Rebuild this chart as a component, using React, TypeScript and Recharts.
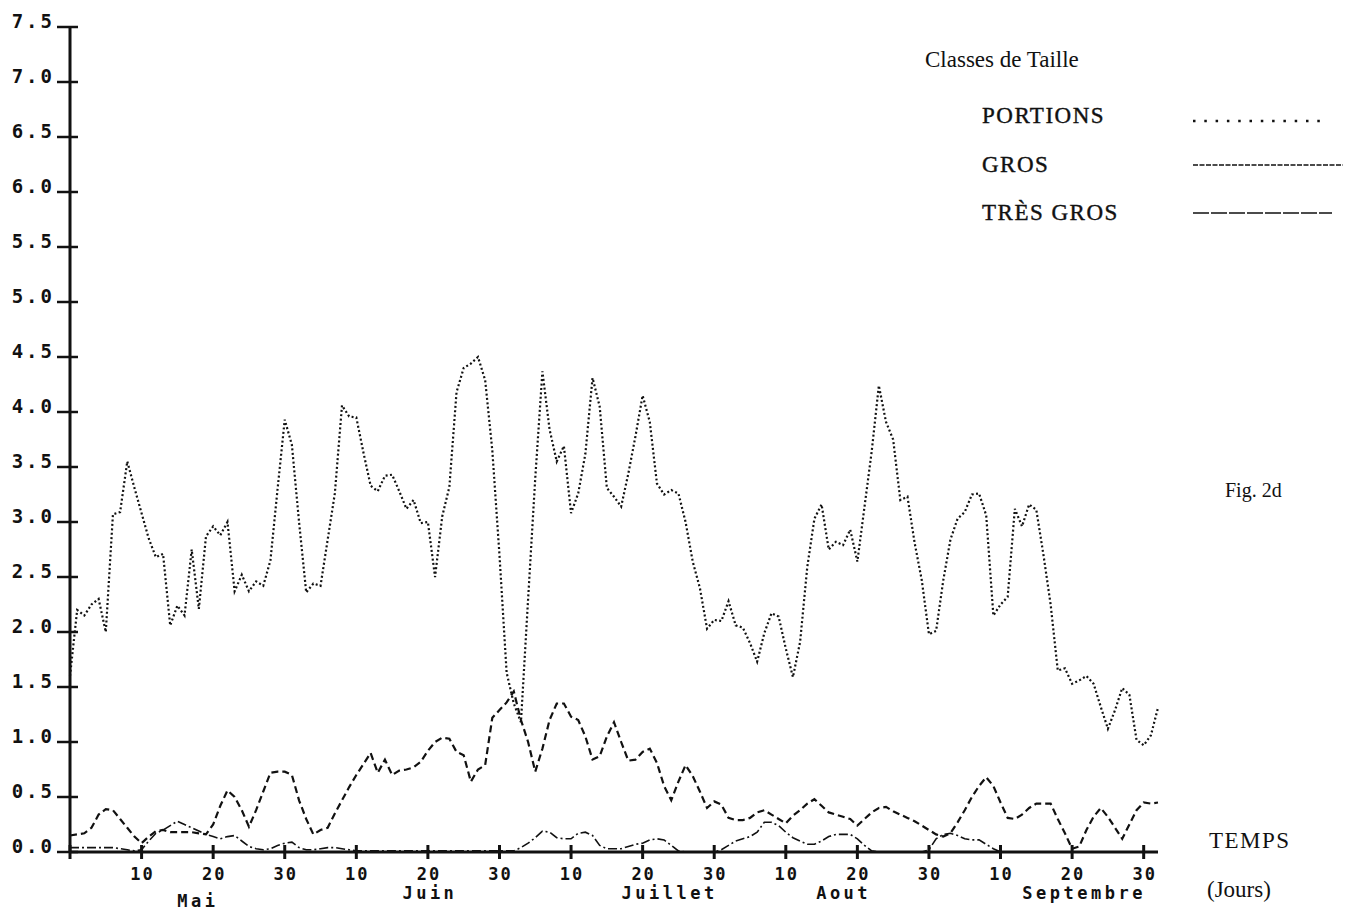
import { LineChart, Line, XAxis, YAxis } from "recharts";

// daily values, day 0 = start of May (30-day months on the time axis)
const portions = [
  1.6, 2.2, 2.15, 2.25, 2.3, 2.0, 3.07, 3.09, 3.55, 3.31,
  3.08, 2.85, 2.68, 2.71, 2.06, 2.24, 2.15, 2.75, 2.21, 2.87,
  2.96, 2.88, 3.0, 2.37, 2.52, 2.37, 2.46, 2.42, 2.65, 3.3,
  3.93, 3.7, 3.0, 2.36, 2.44, 2.42, 2.84, 3.26, 4.06, 3.96,
  3.95, 3.63, 3.33, 3.28, 3.42, 3.43, 3.28, 3.12, 3.2, 2.99,
  3.0, 2.5, 3.05, 3.32, 4.18, 4.4, 4.44, 4.5, 4.29, 3.65,
  2.7, 1.63, 1.35, 1.18, 2.3, 3.4, 4.37, 3.84, 3.55, 3.69,
  3.08, 3.26, 3.62, 4.31, 4.05, 3.31, 3.23, 3.14, 3.44, 3.78,
  4.15, 3.91, 3.35, 3.25, 3.29, 3.26, 3.0, 2.64, 2.4, 2.03,
  2.11, 2.1, 2.28, 2.06, 2.04, 1.9, 1.73, 1.99, 2.17, 2.14,
  1.85, 1.59, 1.91, 2.59, 3.03, 3.16, 2.75, 2.82, 2.79, 2.93,
  2.64, 3.14, 3.64, 4.24, 3.91, 3.75, 3.2, 3.23, 2.81, 2.47,
  1.98, 2.01, 2.47, 2.84, 3.03, 3.09, 3.25, 3.26, 3.06, 2.15,
  2.25, 2.32, 3.12, 2.96, 3.16, 3.11, 2.7, 2.25, 1.65, 1.67,
  1.53, 1.56, 1.6, 1.53, 1.32, 1.12, 1.29, 1.49, 1.43, 1.02,
  0.97, 1.06, 1.31,
];

const gros = [
  0.15, 0.16, 0.17, 0.22, 0.34, 0.39, 0.38, 0.3, 0.22, 0.14,
  0.08, 0.14, 0.19, 0.2, 0.18, 0.18, 0.18, 0.18, 0.17, 0.16,
  0.25, 0.42, 0.56, 0.5, 0.38, 0.23, 0.38, 0.55, 0.72, 0.73,
  0.73, 0.7, 0.47, 0.3, 0.16, 0.2, 0.22, 0.35, 0.47, 0.59,
  0.7, 0.8, 0.9, 0.72, 0.84, 0.7, 0.74, 0.75, 0.77, 0.82,
  0.92, 1.0, 1.04, 1.03, 0.91, 0.88, 0.64, 0.75, 0.79, 1.22,
  1.29, 1.36, 1.46, 1.2, 1.0, 0.73, 0.94, 1.2, 1.35, 1.35,
  1.23, 1.2, 1.05, 0.84, 0.87, 1.05, 1.18, 1.0, 0.83, 0.84,
  0.91, 0.94, 0.81, 0.6, 0.47, 0.64, 0.79, 0.69, 0.55, 0.4,
  0.46, 0.43, 0.31, 0.29, 0.29, 0.31, 0.36, 0.38, 0.34, 0.3,
  0.26, 0.33, 0.38, 0.44, 0.48, 0.42, 0.36, 0.34, 0.32, 0.3,
  0.24, 0.3, 0.36, 0.4, 0.41, 0.37, 0.34, 0.31, 0.28, 0.24,
  0.2, 0.16, 0.14, 0.17, 0.27, 0.38, 0.5, 0.6, 0.68, 0.6,
  0.45, 0.31, 0.3, 0.34, 0.4, 0.44, 0.44, 0.44, 0.3, 0.17,
  0.03, 0.05, 0.2, 0.32, 0.4, 0.32, 0.22, 0.12, 0.25, 0.38,
  0.45, 0.44, 0.45,
];

const tresGros = [
  0.04, 0.04, 0.04, 0.04, 0.04, 0.04, 0.04, 0.03, 0.02, 0.01,
  0.02, 0.1, 0.17, 0.2, 0.24, 0.28, 0.25, 0.22, 0.19, 0.16,
  0.14, 0.12, 0.14, 0.15, 0.1, 0.05, 0.03, 0.02, 0.03, 0.06,
  0.08, 0.09, 0.04, 0.02, 0.02, 0.03, 0.04, 0.04, 0.03, 0.02,
  0.01, 0.01, 0.01, 0.01, 0.01, 0.01, 0.01, 0.01, 0.01, 0.01,
  0.01, 0.01, 0.01, 0.01, 0.01, 0.01, 0.01, 0.01, 0.01, 0.01,
  0.01, 0.01, 0.01, 0.04, 0.08, 0.13, 0.19, 0.18, 0.13, 0.12,
  0.12, 0.17, 0.18, 0.15, 0.06, 0.03, 0.03, 0.03, 0.05, 0.07,
  0.08, 0.11, 0.12, 0.11, 0.06, 0.01, 0, 0, 0, 0,
  0, 0.02, 0.06, 0.1, 0.12, 0.14, 0.18, 0.27, 0.27, 0.24,
  0.18, 0.13, 0.1, 0.07, 0.07, 0.1, 0.14, 0.16, 0.16, 0.16,
  0.12, 0.06, 0.01, 0, 0, 0, 0, 0, 0, 0,
  0.02, 0.12, 0.16, 0.17, 0.15, 0.12, 0.11, 0.11, 0.07, 0.03,
  0, 0, 0, 0, 0, 0, 0, 0, 0, 0,
  0, 0, 0, 0, 0, 0, 0, 0, 0, 0,
  0, 0, 0,
];

const dayTicks = [0, 10, 20, 30, 40, 50, 60, 70, 80, 90, 100, 110, 120, 130, 140, 150];
const valueTicks = [0, 0.5, 1, 1.5, 2, 2.5, 3, 3.5, 4, 4.5, 5, 5.5, 6, 6.5, 7, 7.5];
const months = ["Mai", "Juin", "Juillet", "Aout", "Septembre"];
const monthTicks = [17.6, 50, 83.5, 107.8, 141.4];

const seriesNames = ["PORTIONS", "GROS", "TRÈS GROS"];

const data = portions.map((p, i) => ({
  day: i,
  portions: p,
  gros: gros[i],
  tresGros: tresGros[i],
}));

const allXTicks = Array.from(new Set([...dayTicks, ...monthTicks])).sort((a, b) => a - b);

const MONO = '"DejaVu Sans Mono", monospace';
const SERIF = '"Liberation Serif", "Times New Roman", serif';
const INK = "#111";

function YTick({ x, y, payload }: any) {
  return (
    <g>
      <line x1={x - 13} x2={x + 8} y1={y} y2={y} stroke={INK} strokeWidth={2.5} />
      <text
        x={x - 15}
        y={y + 1}
        textAnchor="end"
        fontFamily={MONO}
        fontWeight="bold"
        fontSize={19}
        fill={INK}
        style={{ letterSpacing: 3 }}
      >
        {Number(payload.value).toFixed(1)}
      </text>
    </g>
  );
}

// day ticks get a cross mark and a day number, month positions a name
function XTick({ x, y, payload }: any) {
  const v = payload.value;
  const m = monthTicks.indexOf(v);
  const isDay = dayTicks.includes(v);
  const label = v === 0 ? "" : String(((v - 1) % 30) + 1);
  return (
    <g>
      {isDay && (
        <>
          <line x1={x} x2={x} y1={y - 7} y2={y + 7} stroke={INK} strokeWidth={3} />
          <text
            x={x + 1}
            y={y + 28}
            textAnchor="middle"
            fontFamily={MONO}
            fontWeight="bold"
            fontSize={17}
            fill={INK}
            style={{ letterSpacing: 2 }}
          >
            {label}
          </text>
        </>
      )}
      {m >= 0 && (
        <text
          x={x + 2}
          y={y + (m === 0 ? 55 : 47)}
          textAnchor="middle"
          fontFamily={MONO}
          fontWeight="bold"
          fontSize={17}
          fill={INK}
          style={{ letterSpacing: 3.5 }}
        >
          {months[m]}
        </text>
      )}
    </g>
  );
}

const legendRows = [
  { y: 123, lineY: 121, x2: 1328, dash: "2.5 8.8", w: 2.5 },
  { y: 172, lineY: 165, x2: 1343, dash: "5 1.5", w: 1.5 },
  { y: 220, lineY: 213, x2: 1332, dash: "16 2", w: 1.3 },
];

export default function App() {
  return (
    <div style={{ position: "relative", width: 1359, height: 913, background: "#fff" }}>
      <style>{"body{margin:0}"}</style>
      <LineChart
        width={1359}
        height={913}
        data={data}
        margin={{ top: 27, right: 201, bottom: 0, left: 0 }}
      >
        <XAxis
          type="number"
          dataKey="day"
          domain={[0, 152]}
          ticks={allXTicks}
          interval={0}
          height={61}
          tickSize={0}
          tickMargin={0}
          tickLine={false}
          axisLine={{ stroke: INK, strokeWidth: 3 }}
          tick={<XTick />}
        />
        <YAxis
          type="number"
          domain={[0, 7.5]}
          ticks={valueTicks}
          interval={0}
          width={70}
          tickSize={0}
          tickMargin={0}
          tickLine={false}
          axisLine={{ stroke: INK, strokeWidth: 3 }}
          tick={<YTick />}
        />
        <Line
          type="linear"
          dataKey="portions"
          name={seriesNames[0]}
          stroke={INK}
          strokeWidth={2.2}
          strokeDasharray="2 2.4"
          dot={false}
          isAnimationActive={false}
        />
        <Line
          type="linear"
          dataKey="gros"
          name={seriesNames[1]}
          stroke={INK}
          strokeWidth={2.2}
          strokeDasharray="7 4"
          dot={false}
          isAnimationActive={false}
        />
        <Line
          type="linear"
          dataKey="tresGros"
          name={seriesNames[2]}
          stroke={INK}
          strokeWidth={1.6}
          strokeDasharray="9 3 2 3"
          dot={false}
          isAnimationActive={false}
        />
      </LineChart>
      <svg
        width={1359}
        height={913}
        style={{ position: "absolute", left: 0, top: 0, pointerEvents: "none" }}
      >
        <text x={925} y={67} fontFamily={SERIF} fontSize={23} fill={INK}>
          Classes de Taille
        </text>
        {legendRows.map((r, i) => (
          <g key={i}>
            <text
              x={982}
              y={r.y}
              fontFamily={SERIF}
              fontSize={23}
              fill={INK}
              stroke={INK}
              strokeWidth={0.4}
              style={{ letterSpacing: 1.5 }}
            >
              {seriesNames[i]}
            </text>
            <line
              x1={1193}
              x2={r.x2}
              y1={r.lineY}
              y2={r.lineY}
              stroke={INK}
              strokeWidth={r.w}
              strokeDasharray={r.dash}
            />
          </g>
        ))}
        <text x={1225} y={497} fontFamily={SERIF} fontSize={20} fill={INK}>
          Fig. 2d
        </text>
        <text
          x={1209}
          y={848}
          fontFamily={SERIF}
          fontSize={23}
          fill={INK}
          style={{ letterSpacing: 1.5 }}
        >
          TEMPS
        </text>
        <text x={1207} y={897} fontFamily={SERIF} fontSize={23} fill={INK}>
          (Jours)
        </text>
      </svg>
    </div>
  );
}
